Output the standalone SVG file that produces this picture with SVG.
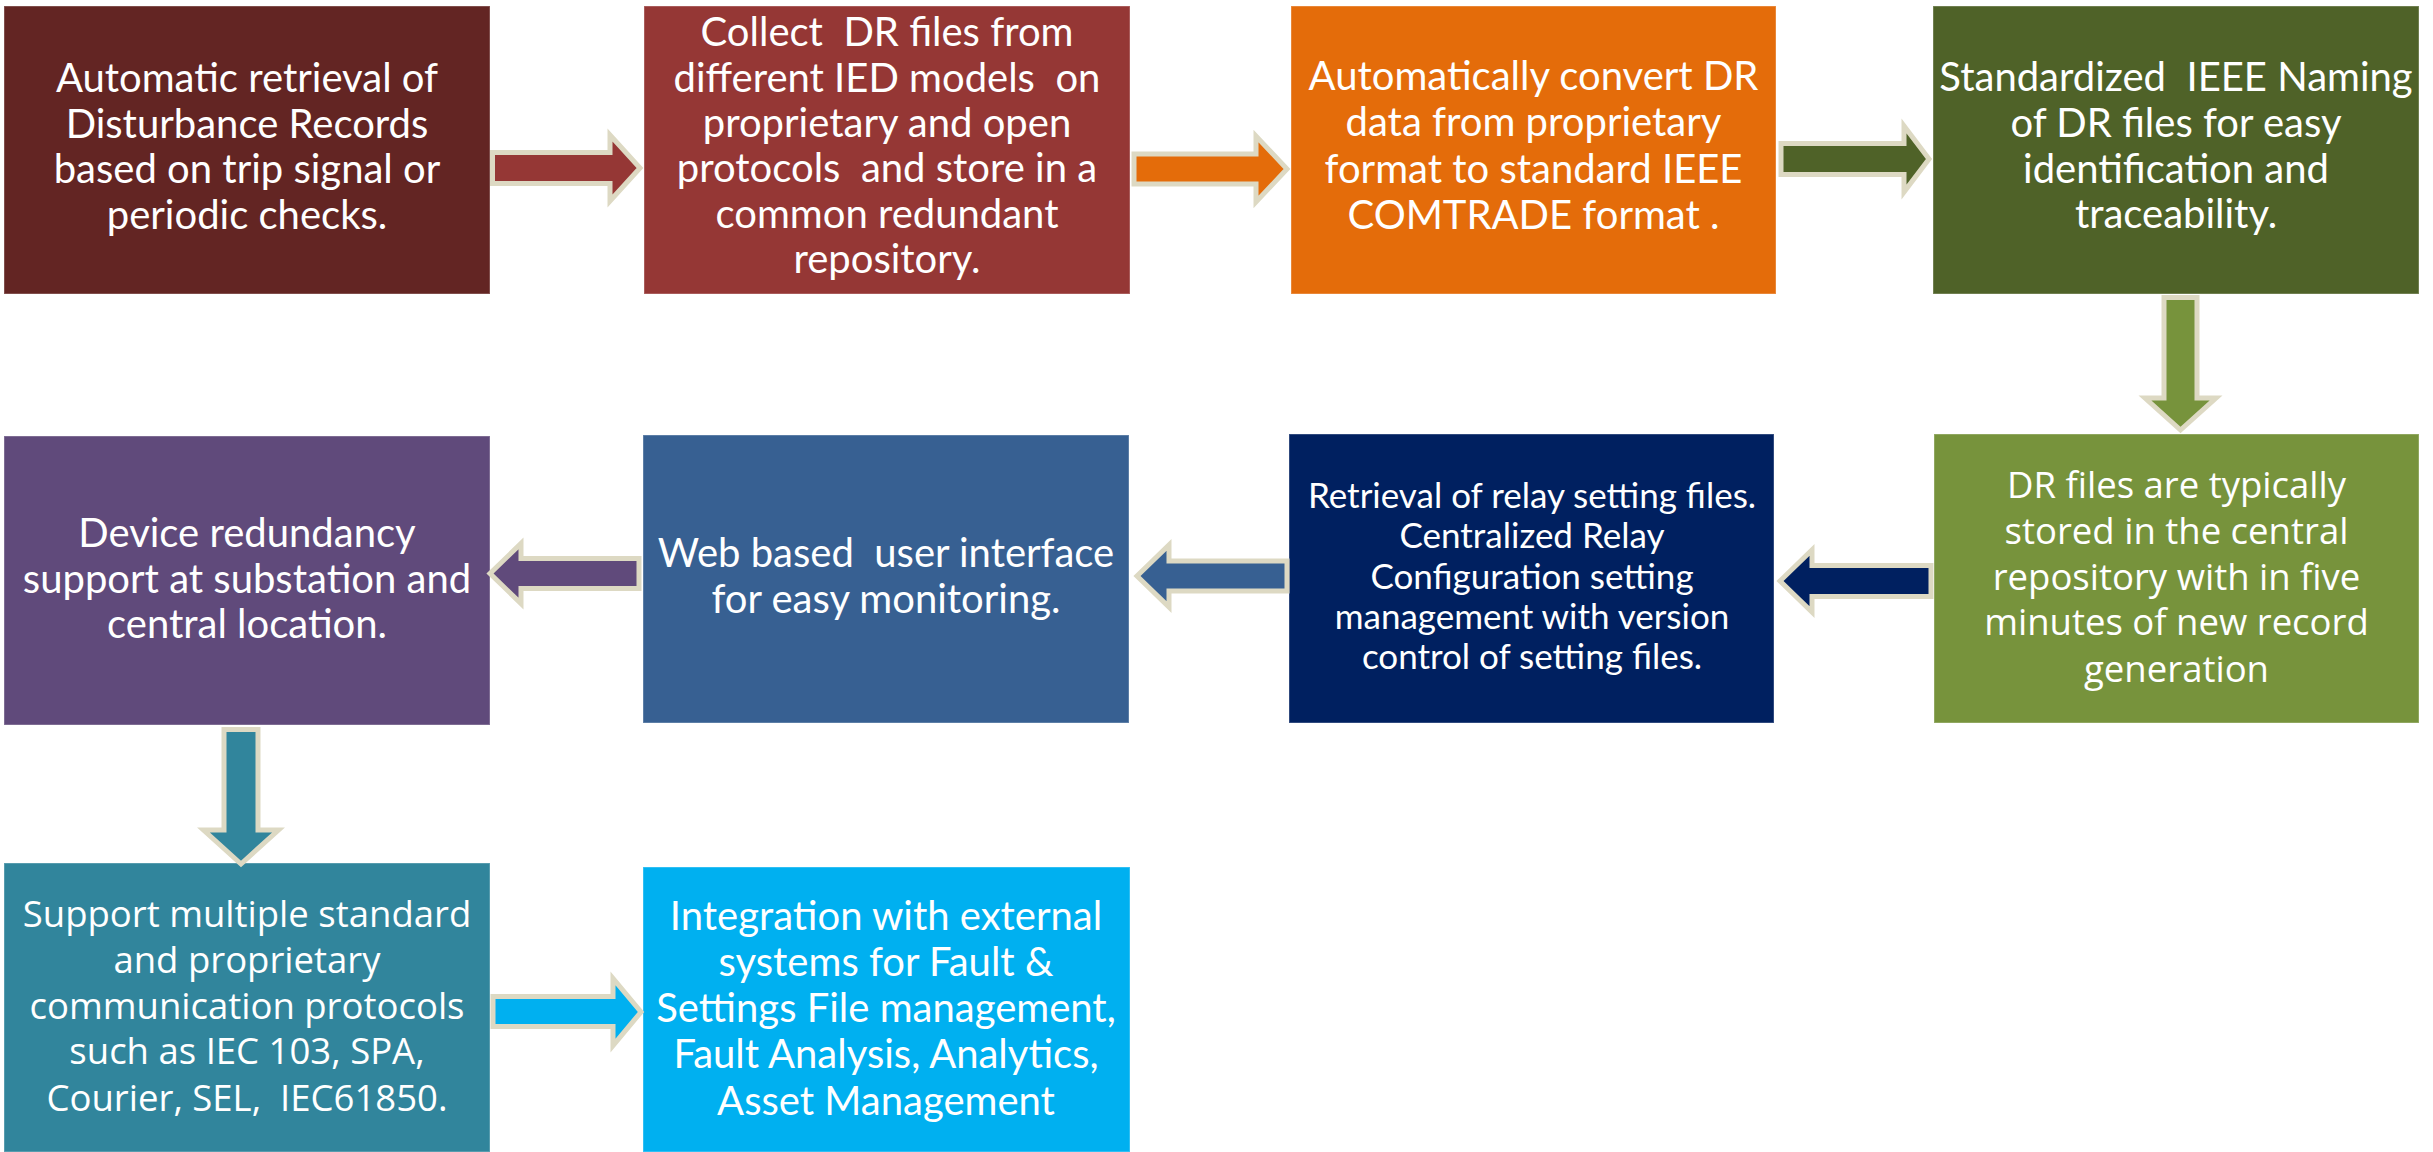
<svg xmlns="http://www.w3.org/2000/svg" width="2433" height="1152" viewBox="0 0 2433 1152">
<style>
.box{stroke:#ffffff;stroke-opacity:0.25;stroke-width:1.5}
.t{font-family:Lato,"Liberation Sans",sans-serif;font-size:40px;fill:#ffffff;text-anchor:middle;white-space:pre}
.s{font-size:35px}
.o{font-family:"Open Sans","Noto Sans",sans-serif;font-size:36.5px}
.arr{stroke:#DDD9C3;stroke-width:5;stroke-linejoin:miter}
</style>
<rect width="2433" height="1152" fill="#ffffff"/>
<g id="n1">
<rect class="box" x="4" y="6" width="486" height="288" fill="#632523"/>
<text class="t"><tspan x="247" y="92">Automatic retrieval of</tspan><tspan x="247" y="138">Disturbance Records</tspan><tspan x="247" y="183">based on trip signal or</tspan><tspan x="247" y="229">periodic checks.</tspan></text>
</g>
<g id="n2">
<rect class="box" x="644" y="6" width="486" height="288" fill="#953735"/>
<text class="t"><tspan x="887" y="46">Collect  DR files from</tspan><tspan x="887" y="91.5">different IED models  on</tspan><tspan x="887" y="137">proprietary and open</tspan><tspan x="887" y="182">protocols  and store in a</tspan><tspan x="887" y="228">common redundant</tspan><tspan x="887" y="273">repository.</tspan></text>
</g>
<g id="n3">
<rect class="box" x="1291" y="6" width="485" height="288" fill="#E46C0A"/>
<text class="t"><tspan x="1533.5" y="89.5">Automatically convert DR</tspan><tspan x="1533.5" y="136">data from proprietary</tspan><tspan x="1533.5" y="182.5">format to standard IEEE</tspan><tspan x="1533.5" y="229">COMTRADE format .</tspan></text>
</g>
<g id="n4">
<rect class="box" x="1933" y="6" width="486" height="288" fill="#4F6228"/>
<text class="t"><tspan x="2176" y="91">Standardized  IEEE Naming</tspan><tspan x="2176" y="137">of DR files for easy</tspan><tspan x="2176" y="183">identification and</tspan><tspan x="2176" y="228">traceability.</tspan></text>
</g>
<g id="n5">
<rect class="box" x="4" y="436" width="486" height="289" fill="#604A7B"/>
<text class="t"><tspan x="247" y="547">Device redundancy</tspan><tspan x="247" y="593">support at substation and</tspan><tspan x="247" y="638">central location.</tspan></text>
</g>
<g id="n6">
<rect class="box" x="643" y="435" width="486" height="288" fill="#376092"/>
<text class="t"><tspan x="886" y="567">Web based  user interface</tspan><tspan x="886" y="613">for easy monitoring.</tspan></text>
</g>
<g id="n7">
<rect class="box" x="1289" y="434" width="485" height="289" fill="#002060"/>
<text class="t s"><tspan x="1532" y="508">Retrieval of relay setting files.</tspan><tspan x="1532" y="548">Centralized Relay</tspan><tspan x="1532" y="588.5">Configuration setting</tspan><tspan x="1532" y="629">management with version</tspan><tspan x="1532" y="669">control of setting files.</tspan></text>
</g>
<g id="n8">
<rect class="box" x="1934" y="434" width="485" height="289" fill="#77933C"/>
<text class="t o"><tspan x="2176.5" y="498">DR files are typically</tspan><tspan x="2176.5" y="544">stored in the central</tspan><tspan x="2176.5" y="590">repository with in five</tspan><tspan x="2176.5" y="635">minutes of new record</tspan><tspan x="2176.5" y="682">generation</tspan></text>
</g>
<g id="n9">
<rect class="box" x="4" y="863" width="486" height="289" fill="#31859C"/>
<text class="t o"><tspan x="247" y="927">Support multiple standard</tspan><tspan x="247" y="973">and proprietary</tspan><tspan x="247" y="1019">communication protocols</tspan><tspan x="247" y="1064">such as IEC 103, SPA,</tspan><tspan x="247" y="1111">Courier, SEL,  IEC61850.</tspan></text>
</g>
<g id="n10">
<rect class="box" x="643" y="867" width="487" height="285" fill="#00B0F0"/>
<text class="t"><tspan x="886" y="930">Integration with external</tspan><tspan x="886" y="976">systems for Fault &amp;</tspan><tspan x="886" y="1022">Settings File management,</tspan><tspan x="886" y="1068">Fault Analysis, Analytics,</tspan><tspan x="886" y="1115">Asset Management</tspan></text>
</g>
<g id="connectors">
<polygon class="arr" fill="#953735" points="492.5,152.5 610,152.5 610,135 640,168 610,201 610,183.5 492.5,183.5"/>
<polygon class="arr" fill="#E46C0A" points="1134,154 1256,154 1256,136 1287,169 1256,202 1256,184 1134,184"/>
<polygon class="arr" fill="#4F6228" points="1781,143.5 1904,143.5 1904,126 1929,159 1904,192 1904,174.5 1781,174.5"/>
<polygon class="arr" fill="#77933C" points="2164,297.5 2197,297.5 2197,398 2216,398 2180.5,430 2145,398 2164,398"/>
<polygon class="arr" fill="#002060" points="1931,565.5 1812,565.5 1812,550 1780,581 1812,612 1812,596.5 1931,596.5"/>
<polygon class="arr" fill="#376092" points="1287,561 1169,561 1169,545 1137,576 1169,607 1169,591 1287,591"/>
<polygon class="arr" fill="#604A7B" points="639,558.5 521,558.5 521,543.5 490,573.5 521,603.5 521,588.5 639,588.5"/>
<polygon class="arr" fill="#31859C" points="224,729.5 258,729.5 258,830 278.5,830 241,864 203.5,830 224,830"/>
<polygon class="arr" fill="#00B0F0" points="493,996.5 613,996.5 613,978.5 641,1012 613,1045.5 613,1026.5 493,1026.5"/>
</g>
</svg>
